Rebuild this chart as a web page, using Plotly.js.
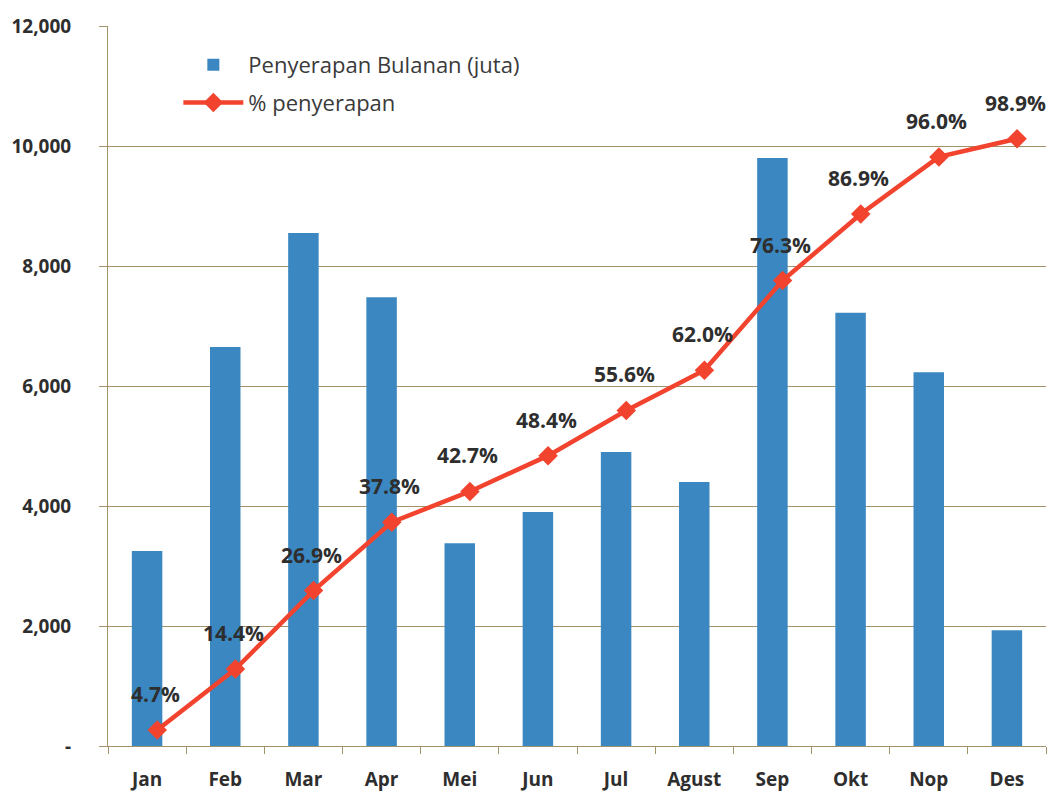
<!DOCTYPE html>
<html>
<head>
<meta charset="utf-8">
<script src="https://cdn.plot.ly/plotly-3.0.1.min.js"></script>
<style>html,body{margin:0;padding:0;background:#fff;}#chart{width:1056px;height:794px;}</style>
</head>
<body>
<div id="chart"></div>
<script>
var months = ["Jan","Feb","Mar","Apr","Mei","Jun","Jul","Agust","Sep","Okt","Nop","Des"];
var monthlyAbsorption = [3250, 6650, 8550, 7480, 3380, 3900, 4900, 4400, 9800, 7220, 6230, 1930];
var pctAbsorption = [4.7, 14.4, 26.9, 37.8, 42.7, 48.4, 55.6, 62.0, 76.3, 86.9, 96.0, 98.9];
var yTickVals = [0, 2000, 4000, 6000, 8000, 10000, 12000];
var yTickText = ["-", "2,000", "4,000", "6,000", "8,000", "10,000", "12,000"];

var gridColor = "#a3936a";
var textColor = "#2e2e2e";
var boldFont = {family: "Open Sans, sans-serif", size: 19, color: textColor, weight: "bold"};
var labelFont = {family: "Open Sans, sans-serif", size: 21, color: textColor, weight: "bold"};

var traces = [
  {
    type: "bar", name: "Penyerapan Bulanan (juta)", legendgroup: "a",
    x: months, y: monthlyAbsorption,
    marker: {color: "#3a87c1"},
    hoverinfo: "x+y"
  },
  {
    type: "scatter", mode: "lines+markers", name: "% penyerapan", legendgroup: "b",
    x: months, y: pctAbsorption, xaxis: "x2", yaxis: "y2",
    line: {color: "#f2432e", width: 4.5},
    marker: {symbol: "diamond", size: 15, color: "#f2432e"}
  }
];

var annotations = months.map(function(m, i){
  return {
    x: m, y: pctAbsorption[i], xref: "x2", yref: "y2",
    text: pctAbsorption[i].toFixed(1) + "%",
    showarrow: false, yshift: 36, xshift: -2, font: labelFont
  };
});

var layout = {
  width: 1056, height: 794,
  margin: {l: 108, r: 10, t: 26, b: 48},
  paper_bgcolor: "#ffffff", plot_bgcolor: "#ffffff",
  bargap: 0.61,
  showlegend: true,
  legend: {
    x: 0.075, y: 0.975, xanchor: "left", yanchor: "top",
    bgcolor: "rgba(0,0,0,0)",
    font: {family: "Open Sans, sans-serif", size: 22, color: "#3a3a3a"},
    itemwidth: 60, traceorder: "grouped", tracegroupgap: 6
  },
  xaxis: {
    type: "category", range: [-0.5, 11.5],
    showline: true, linecolor: gridColor, linewidth: 1,
    ticks: "outside", tickson: "boundaries", ticklen: 7, tickcolor: gridColor,
    showgrid: false, ticklabelstandoff: 16,
    tickfont: boldFont
  },
  xaxis2: {
    type: "category", overlaying: "x", visible: false,
    range: [-0.63, 11.37], showgrid: false
  },
  yaxis: {
    range: [0, 12000],
    tickvals: yTickVals, ticktext: yTickText,
    showgrid: true, gridcolor: gridColor, gridwidth: 1,
    showline: true, linecolor: gridColor, linewidth: 1,
    ticks: "outside", ticklen: 8, tickcolor: gridColor,
    ticklabelstandoff: 24,
    zeroline: false,
    tickfont: boldFont
  },
  yaxis2: {
    overlaying: "y", side: "right", visible: false,
    range: [2.14, 116.86], showgrid: false, zeroline: false
  },
  annotations: annotations
};

Plotly.newPlot("chart", traces, layout, {displayModeBar: false, staticPlot: true});
</script>
</body>
</html>
